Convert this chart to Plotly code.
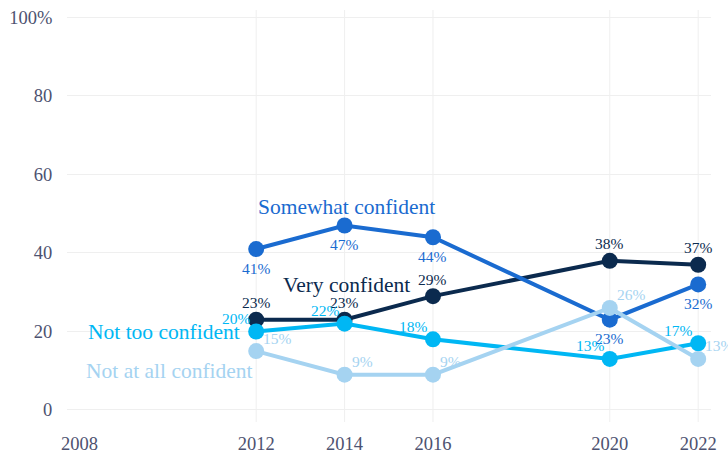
import plotly.graph_objects as go

# Survey years and the share of respondents (%) in each confidence group
years = [2012, 2014, 2016, 2020, 2022]
very_confident = [23, 23, 29, 38, 37]
somewhat_confident = [41, 47, 44, 23, 32]
not_too_confident = [20, 22, 18, 13, 17]
not_at_all_confident = [15, 9, 9, 26, 13]

x_tick_vals = [2008, 2012, 2014, 2016, 2020, 2022]
y_tick_vals = [0, 20, 40, 60, 80, 100]
y_tick_text = ["0", "20", "40", "60", "80", "100%"]

FONT = "Liberation Serif"
TICK_COLOR = "#4d5270"
GRID_COLOR = "#efefef"

# name, values, colour, value-label anchor and pixel offset from the point
series = [
    ("Very confident", very_confident, "#0b2a4e", ("center", "middle", 0, 17)),
    ("Somewhat confident", somewhat_confident, "#1a6bd0", ("center", "middle", 0, -19)),
    ("Not too confident", not_too_confident, "#00b7f4", ("right", "middle", -3, 13)),
    ("Not at all confident", not_at_all_confident, "#a5d3f1", ("left", "middle", 5, 13)),
]

fig = go.Figure()
for name, vals, color, _ in series:
    fig.add_trace(go.Scatter(
        x=years, y=vals, name=name, mode="lines+markers",
        line=dict(color=color, width=4),
        marker=dict(color=color, size=16),
        hoverinfo="skip", cliponaxis=False,
    ))

# Value labels next to each point
for name, vals, color, (xa, ya, dx, dy) in series:
    for yr, v in zip(years, vals):
        fig.add_annotation(x=yr, y=v, text=f"{v}%", showarrow=False,
                           xanchor=xa, yanchor=ya, xshift=dx, yshift=dy,
                           font=dict(family=FONT, size=15.5, color=color))

# Vertical guides at the survey years only
for yr in years:
    fig.add_shape(type="line", xref="x", yref="paper", x0=yr, x1=yr, y0=0, y1=1,
                  line=dict(color=GRID_COLOR, width=1), layer="below")

# Series name labels placed beside their lines
labels = [
    ("Somewhat confident", 2012.0, 51.7, "left", "#1a6bd0"),
    ("Very confident", 2012.57, 31.8, "left", "#0b2a4e"),
    ("Not too confident", 2011.68, 19.8, "right", "#00b7f4"),
    ("Not at all confident", 2011.98, 9.9, "right", "#a5d3f1"),
]
for txt, x, y, anchor, color in labels:
    fig.add_annotation(x=x, y=y, text=txt, showarrow=False, xanchor=anchor,
                       yanchor="middle", font=dict(family=FONT, size=21.5, color=color))

fig.update_layout(
    width=728, height=457,
    margin=dict(l=67, r=17, t=10, b=35),
    paper_bgcolor="white", plot_bgcolor="white",
    showlegend=False,
    font=dict(family=FONT, color=TICK_COLOR),
    xaxis=dict(range=[2007.72, 2022.29], tickvals=x_tick_vals, showgrid=False,
               zeroline=False, showline=False, ticks="outside", ticklen=5,
               automargin=False,
               tickcolor="rgba(0,0,0,0)", tickfont=dict(family=FONT, size=18.5, color=TICK_COLOR)),
    yaxis=dict(range=[-3.06, 101.9], tickvals=y_tick_vals, ticktext=y_tick_text,
               showgrid=True, gridcolor=GRID_COLOR, gridwidth=1, zeroline=False,
               automargin=False,
               showline=False, ticks="outside", ticklen=10, tickcolor="rgba(0,0,0,0)",
               tickfont=dict(family=FONT, size=18.5, color=TICK_COLOR)),
)

fig.write_html("out.html")
